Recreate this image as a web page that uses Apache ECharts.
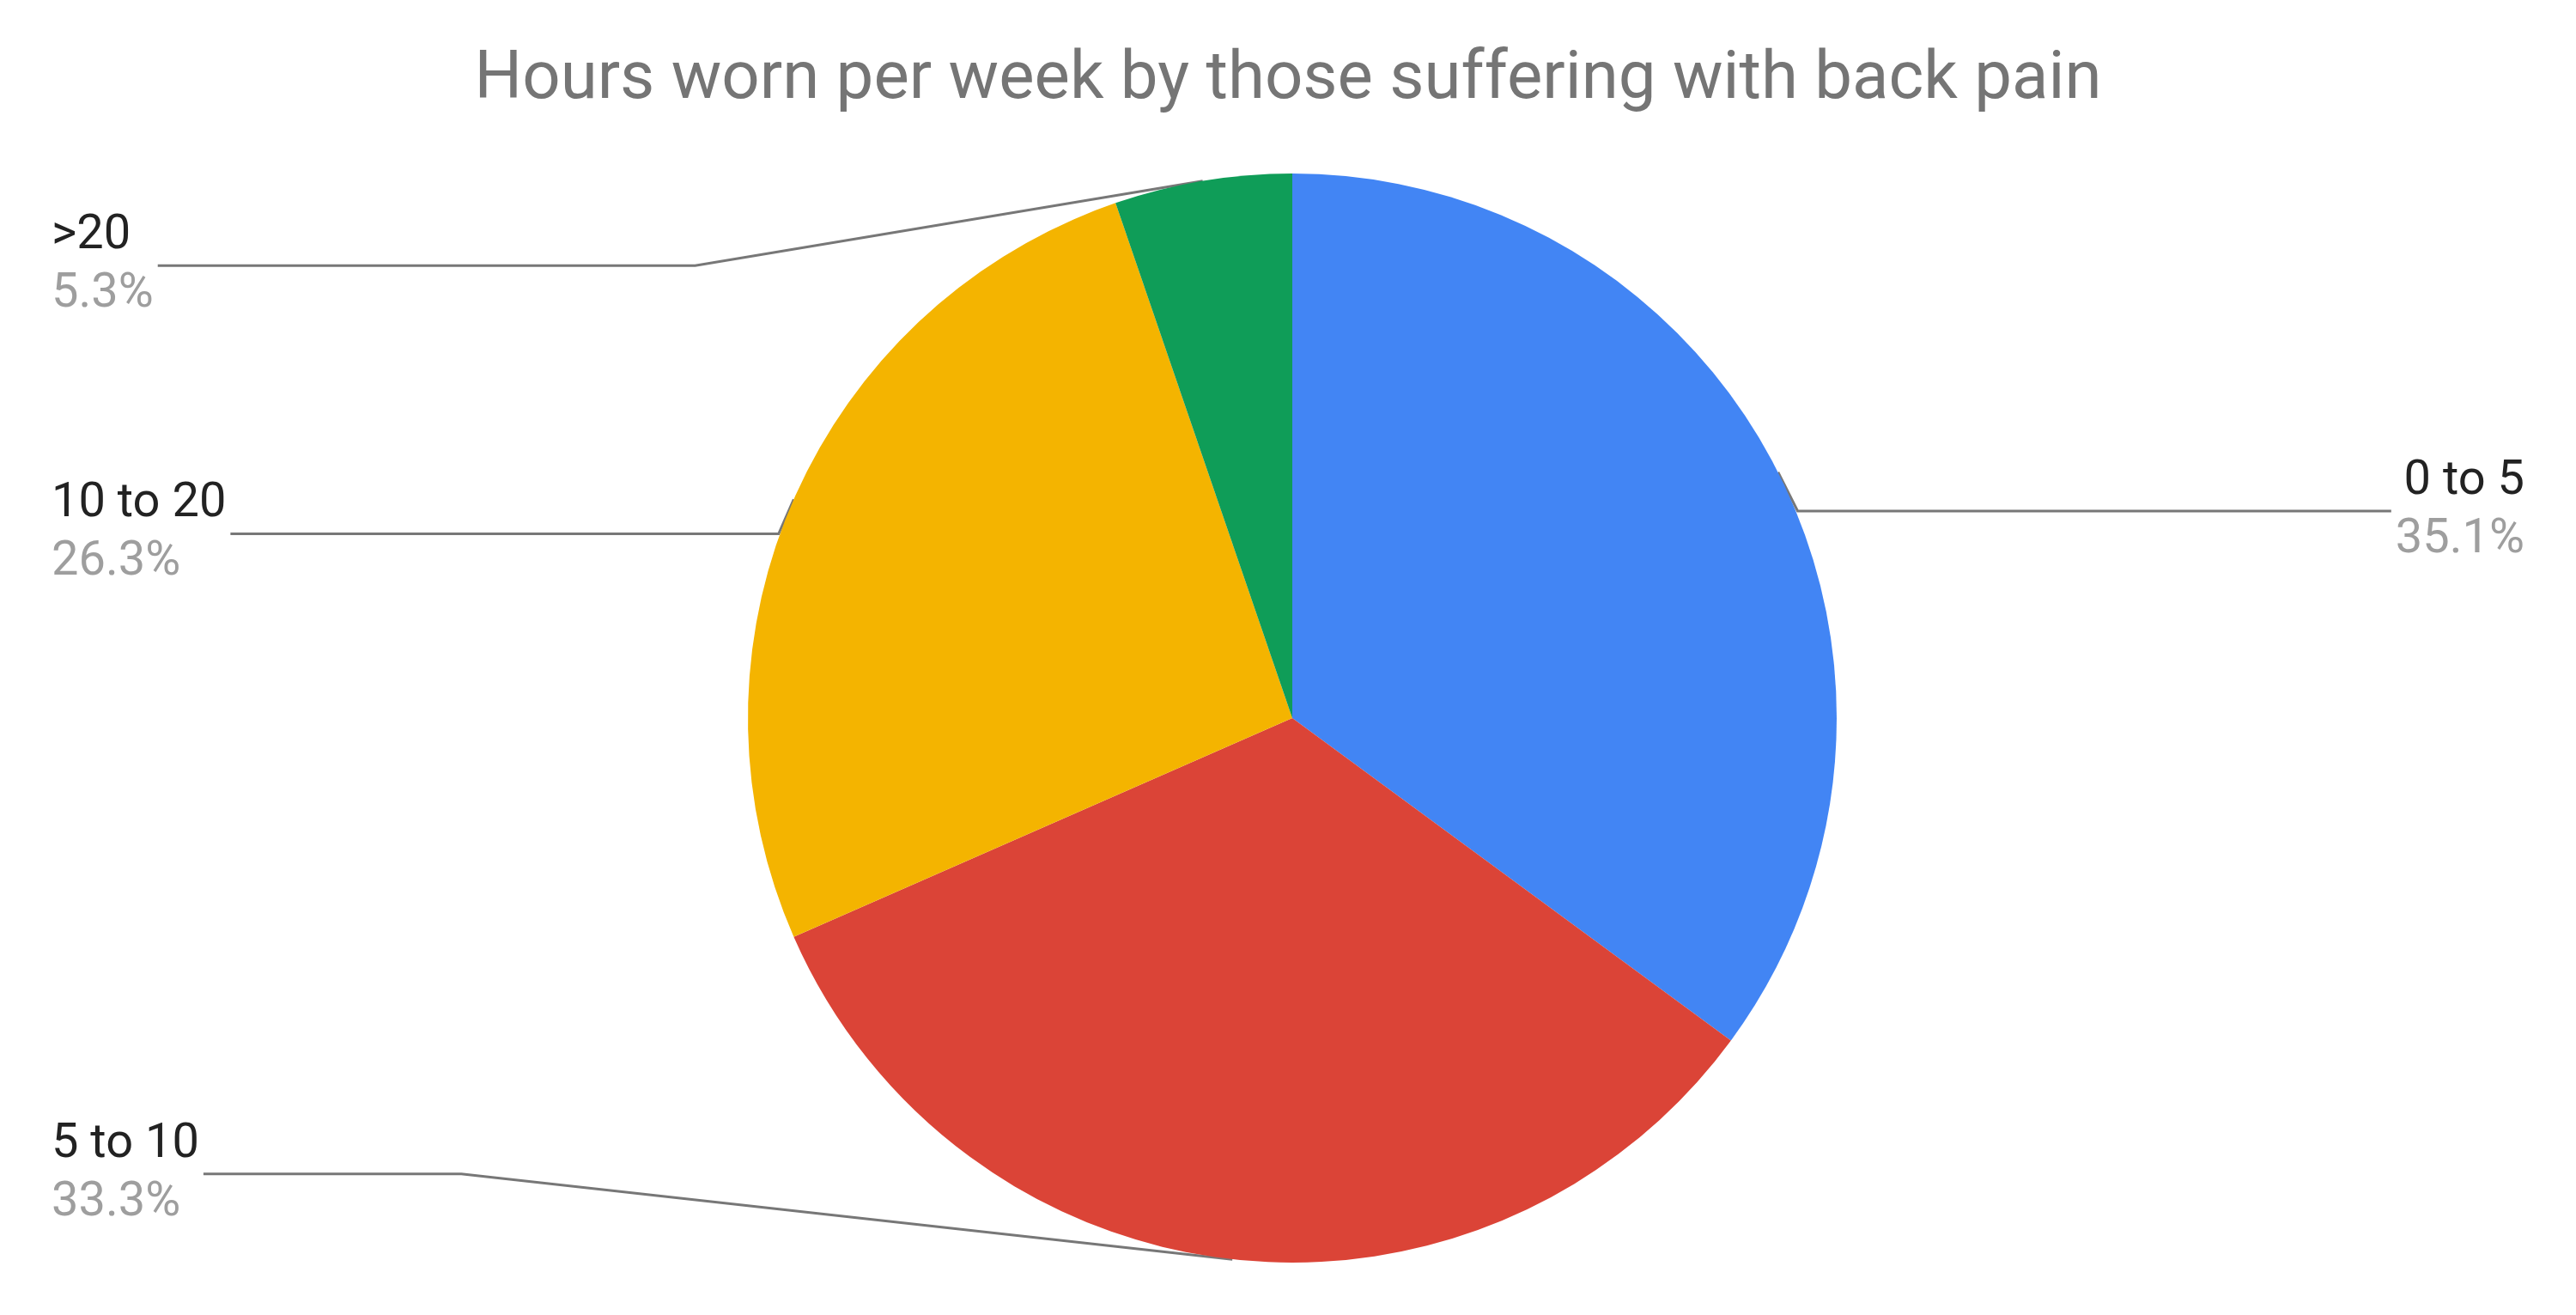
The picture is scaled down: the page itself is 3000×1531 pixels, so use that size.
<!DOCTYPE html>
<html>
<head>
<meta charset="utf-8">
<script src="https://cdn.jsdelivr.net/npm/echarts@6/dist/echarts.min.js"></script>
<style>html,body{margin:0;padding:0;background:#fff}#main{width:3000px;height:1531px}</style>
</head>
<body>
<div id="main"></div>
<script>
// data
var categories = ['0 to 5', '5 to 10', '10 to 20', '>20'];
var counts = [20, 19, 15, 3];
var colors = ['#4285f4', '#db4437', '#f4b400', '#0f9d58'];

var chart = echarts.init(document.getElementById('main'));

var pieData = [];
for (var i = 0; i < categories.length; i++) {
	pieData.push({ name: categories[i], value: counts[i], itemStyle: { color: colors[i] } });
}

var option = {
	backgroundColor: '#fff',
	title: {
		text: 'Hours worn per week by those suffering with back pain',
		left: 'center',
		top: 50,
		textStyle: { fontFamily: 'Roboto', fontWeight: 'normal', fontSize: 78, color: '#757575' }
	},
	series: [{
		type: 'pie',
		center: [1505, 836],
		radius: 634,
		startAngle: 90,
		clockwise: true,
		data: pieData,
		label: {
			alignTo: 'edge',
			edgeDistance: 60,
			formatter: function (p) {
				return '{n|' + p.name + '}\n{p|' + p.percent.toFixed(1) + '%}';
			},
			rich: {
				n: { fontFamily: 'Roboto', fontSize: 56, color: '#222', lineHeight: 68 },
				p: { fontFamily: 'Roboto', fontSize: 56, color: '#9e9e9e', lineHeight: 68 }
			}
		},
		labelLine: {
			show: true,
			length: -100,
			length2: 0,
			lineStyle: { color: '#777', width: 3 }
		}
	}]
};
chart.setOption(option);
</script>
</body>
</html>
